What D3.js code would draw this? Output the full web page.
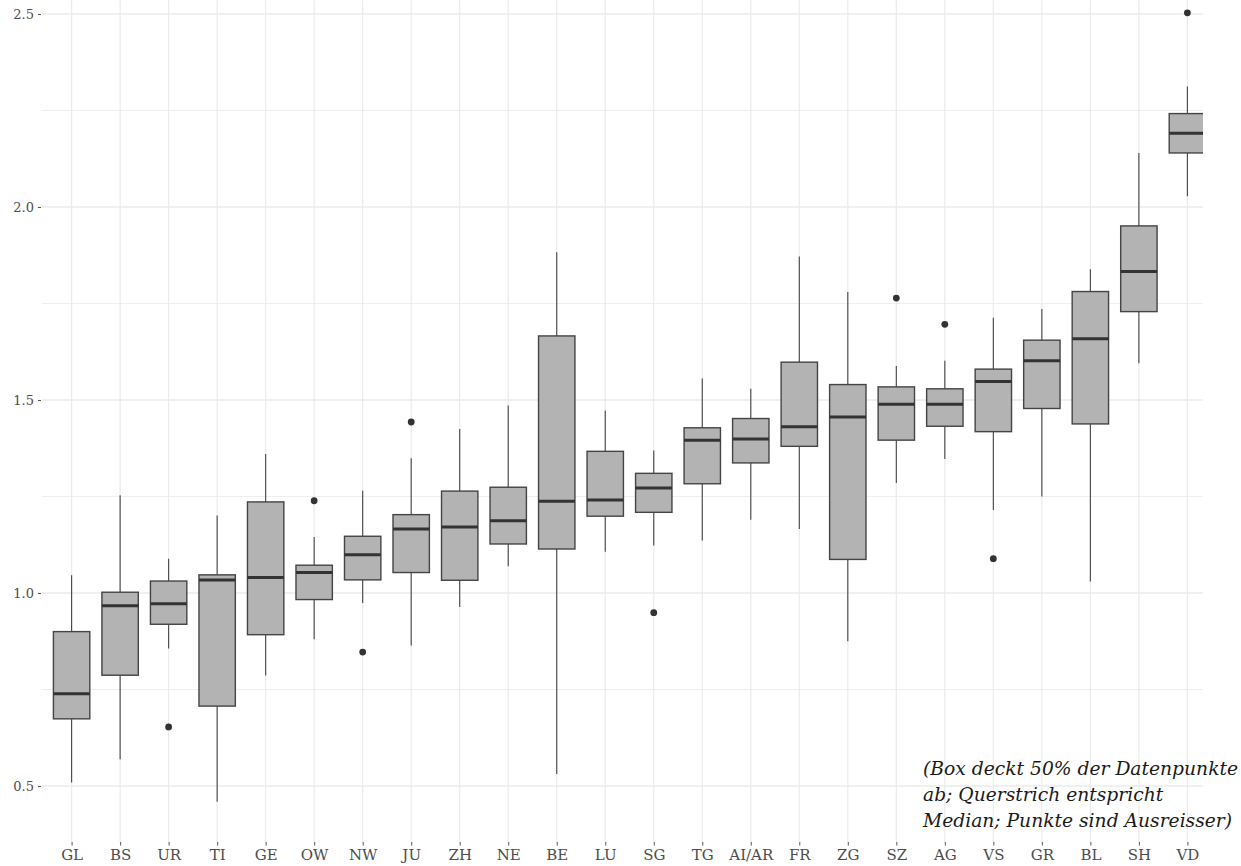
<!DOCTYPE html>
<html>
<head>
<meta charset="utf-8">
<script src="https://cdn.jsdelivr.net/npm/d3@7"></script>
<style>
  html, body { margin: 0; padding: 0; background: #ffffff; }
  svg { display: block; }
</style>
</head>
<body>
<svg id="chart" width="1241" height="866"></svg>
<script>
// ---- data ----
const categories = ["GL","BS","UR","TI","GE","OW","NW","JU","ZH","NE","BE","LU","SG","TG","AI/AR","FR","ZG","SZ","AG","VS","GR","BL","SH","VD"];
const whiskerLow  = [0.509,0.569,0.856,0.459,0.786,0.880,0.974,0.864,0.964,1.069,0.531,1.107,1.123,1.136,1.190,1.166,0.875,1.285,1.347,1.215,1.250,1.030,1.595,2.028];
const q1          = [0.674,0.787,0.919,0.707,0.892,0.983,1.034,1.053,1.033,1.127,1.114,1.199,1.209,1.283,1.337,1.380,1.087,1.396,1.432,1.418,1.478,1.438,1.729,2.140];
const medians     = [0.739,0.967,0.972,1.034,1.040,1.053,1.099,1.166,1.171,1.187,1.238,1.241,1.272,1.396,1.399,1.431,1.456,1.489,1.489,1.548,1.602,1.659,1.833,2.191];
const q3          = [0.900,1.002,1.031,1.047,1.236,1.072,1.147,1.203,1.264,1.274,1.666,1.367,1.310,1.428,1.452,1.598,1.540,1.534,1.529,1.580,1.655,1.781,1.951,2.242];
const whiskerHigh = [1.046,1.253,1.089,1.201,1.360,1.145,1.265,1.349,1.425,1.486,1.883,1.473,1.369,1.556,1.529,1.872,1.780,1.588,1.602,1.713,1.736,1.839,2.140,2.312];
const outlierCats   = ["UR","OW","NW","JU","SG","SZ","AG","VS","VD"];
const outlierValues = [0.653,1.239,0.847,1.443,0.949,1.764,1.696,1.089,2.503];
const majorTicks = [0.5, 1.0, 1.5, 2.0, 2.5];
const minorTicks = [0.75, 1.25, 1.75, 2.25];
const noteLines = ["(Box deckt 50% der Datenpunkte", "ab; Querstrich entspricht", "Median; Punkte sind Ausreisser)"];

// ---- layout ----
const svg = d3.select("#chart");
const panel = { left: 42, right: 1203, top: 0, bottom: 842 };

const x = d3.scalePoint().domain(categories).range([42.5, 1216.5]).padding(0.6);
const y = d3.scaleLinear().domain([0.5, 2.5]).range([786, 14]);
const boxW = x.step() * 0.75;

svg.append("defs").append("clipPath").attr("id", "clip")
  .append("rect").attr("x", panel.left).attr("y", panel.top)
  .attr("width", panel.right - panel.left).attr("height", panel.bottom - panel.top);

const g = svg.append("g").attr("clip-path", "url(#clip)");

// grid
g.selectAll("line.minor").data(minorTicks).join("line")
  .attr("x1", panel.left).attr("x2", panel.right)
  .attr("y1", d => y(d)).attr("y2", d => y(d))
  .attr("stroke", "#efefef").attr("stroke-width", 1);
g.selectAll("line.major").data(majorTicks).join("line")
  .attr("x1", panel.left).attr("x2", panel.right)
  .attr("y1", d => y(d)).attr("y2", d => y(d))
  .attr("stroke", "#ebebeb").attr("stroke-width", 1.3);
g.selectAll("line.vgrid").data(categories).join("line")
  .attr("x1", d => x(d)).attr("x2", d => x(d))
  .attr("y1", panel.top).attr("y2", panel.bottom)
  .attr("stroke", "#ebebeb").attr("stroke-width", 1.2);

// boxes
const rows = categories.map((c, i) => ({ c, lo: whiskerLow[i], q1: q1[i], med: medians[i], q3: q3[i], hi: whiskerHigh[i] }));
const bx = g.selectAll("g.box").data(rows).join("g");
bx.append("line")
  .attr("x1", d => x(d.c)).attr("x2", d => x(d.c))
  .attr("y1", d => y(d.hi)).attr("y2", d => y(d.q3))
  .attr("stroke", "#444").attr("stroke-width", 1.1);
bx.append("line")
  .attr("x1", d => x(d.c)).attr("x2", d => x(d.c))
  .attr("y1", d => y(d.q1)).attr("y2", d => y(d.lo))
  .attr("stroke", "#444").attr("stroke-width", 1.1);
bx.append("rect")
  .attr("x", d => x(d.c) - boxW / 2).attr("width", boxW)
  .attr("y", d => y(d.q3)).attr("height", d => y(d.q1) - y(d.q3))
  .attr("fill", "#b3b3b3").attr("stroke", "#444").attr("stroke-width", 1.4);
bx.append("line")
  .attr("x1", d => x(d.c) - boxW / 2).attr("x2", d => x(d.c) + boxW / 2)
  .attr("y1", d => y(d.med)).attr("y2", d => y(d.med))
  .attr("stroke", "#333").attr("stroke-width", 3);

// outliers
g.selectAll("circle.out").data(outlierCats.map((c, i) => ({ c, v: outlierValues[i] }))).join("circle")
  .attr("cx", d => x(d.c)).attr("cy", d => y(d.v)).attr("r", 3.4)
  .attr("fill", "#333");

// axes
const fontFam = "'DejaVu Serif', 'Liberation Serif', serif";
const yAxis = svg.append("g").attr("transform", `translate(${panel.left - 1},0)`)
  .call(d3.axisLeft(y).tickValues(majorTicks).tickFormat(d3.format(".1f")).tickSize(3).tickPadding(4));
yAxis.select(".domain").remove();
yAxis.selectAll(".tick line").attr("stroke", "#555");
yAxis.selectAll(".tick text").attr("fill", "#4d4d4d").style("font-family", fontFam).style("font-size", "13px");

const xAxis = svg.append("g").attr("transform", `translate(0,${panel.bottom})`)
  .call(d3.axisBottom(x).tickSize(3.5).tickPadding(4));
xAxis.select(".domain").remove();
xAxis.selectAll(".tick line").attr("stroke", "#555");
xAxis.selectAll(".tick text").attr("fill", "#4d4d4d").style("font-family", fontFam).style("font-size", "15px");

// annotation
const note = svg.append("text")
  .attr("x", 923).attr("y", 775)
  .style("font-family", fontFam).style("font-style", "italic").style("font-size", "18.7px")
  .attr("fill", "#1a1a1a");
note.selectAll("tspan").data(noteLines).join("tspan")
  .attr("x", 923).attr("dy", (d, i) => i === 0 ? 0 : 26)
  .text(d => d);
</script>
</body>
</html>
